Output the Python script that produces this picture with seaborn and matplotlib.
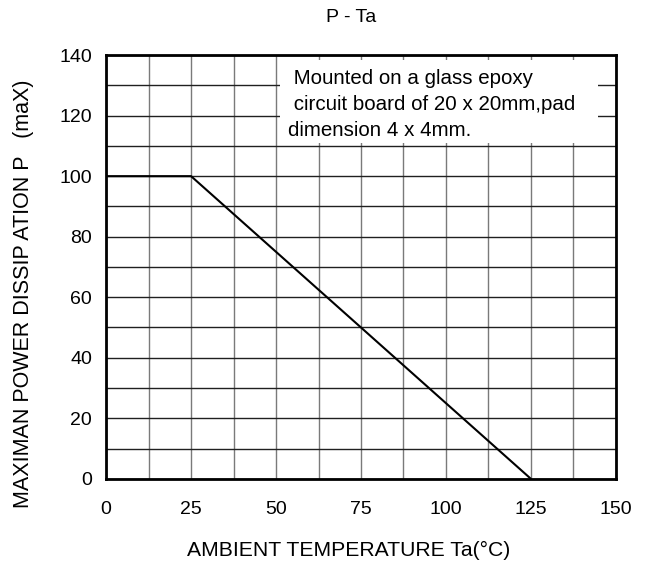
import pandas as pd
import seaborn as sns
import matplotlib.pyplot as plt
from matplotlib.ticker import MultipleLocator

# derating curve P - Ta
ta = [0, 25, 125]
power = [100, 100, 0]

x_ticks = [0, 25, 50, 75, 100, 125, 150]
y_ticks = [0, 20, 40, 60, 80, 100, 120, 140]

note_lines = [" Mounted on a glass epoxy",
              " circuit board of 20 x 20mm,pad",
              "dimension 4 x 4mm."]

sns.set_style("white")
plt.rcParams['font.family'] = ['Liberation Sans', 'DejaVu Sans']
plt.rcParams['text.color'] = 'black'
plt.rcParams['axes.labelcolor'] = 'black'
plt.rcParams['xtick.color'] = 'black'
plt.rcParams['ytick.color'] = 'black'

data = pd.DataFrame({'Ta': ta, 'P': power})

fig = plt.figure(figsize=(6.51, 5.68), dpi=100)
ax = fig.add_axes([0.163, 0.157, 0.783, 0.746])

ax.set_xlim(0, 150)
ax.set_ylim(0, 140)
ax.set_xticks(x_ticks)
ax.set_yticks(y_ticks)
ax.xaxis.set_minor_locator(MultipleLocator(12.5))
ax.yaxis.set_minor_locator(MultipleLocator(10))
ax.grid(True, which='both', axis='x', color='#7a7a7a', linewidth=1)
ax.grid(True, which='both', axis='y', color='#202020', linewidth=1)
ax.tick_params(which='both', length=0, labelsize=14)
ax.tick_params(axis='x', pad=16)
ax.tick_params(axis='y', pad=10)
ax.set_axisbelow(True)

sns.lineplot(data=data, x='Ta', y='P', color='black', linewidth=1.5, ax=ax)

for s in ax.spines.values():
    s.set_color('black')
    s.set_linewidth(2)

# white note box over the grid
ax.add_patch(plt.Rectangle((51.2, 110.9), 93.5, 27.4, facecolor='white',
                           edgecolor='none', zorder=1.5))
ax.text(53.5, 132.3, note_lines[0], fontsize=14.8, va='center', zorder=3)
ax.text(53.5, 123.6, note_lines[1], fontsize=14.8, va='center', zorder=3)
ax.text(53.5, 115.1, note_lines[2], fontsize=14.8, va='center', zorder=3)

ax.set_title('P - Ta', fontsize=14, pad=24, x=0.48)
ax.set_xlabel('AMBIENT TEMPERATURE Ta(°C)', fontsize=15.2)
ax.set_ylabel('MAXIMAN POWER DISSIP ATION P   (maX)', fontsize=15.5)
ax.xaxis.set_label_coords(0.476, -0.147)
ax.yaxis.set_label_coords(-0.142, 0.436)

plt.savefig('out.png', dpi=100)
